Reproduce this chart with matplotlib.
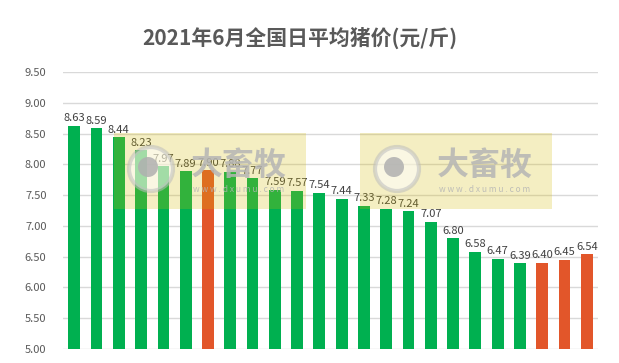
import matplotlib
matplotlib.use("Agg")
import matplotlib.pyplot as plt
from matplotlib.patches import Rectangle, Circle

plt.rcParams['font.family'] = ['Noto Sans CJK SC', 'DejaVu Sans']

title = "2021年6月全国日平均猪价(元/斤)"
days = list(range(1, 25))
prices = [8.63, 8.59, 8.44, 8.23, 7.97, 7.89, 7.90, 7.88, 7.77, 7.59, 7.57, 7.54,
          7.44, 7.33, 7.28, 7.24, 7.07, 6.80, 6.58, 6.47, 6.39, 6.40, 6.45, 6.54]
highlight = [6, 21, 22, 23]  # indices of orange bars
yticks = [5.00, 5.50, 6.00, 6.50, 7.00, 7.50, 8.00, 8.50, 9.00, 9.50]

green = "#00B050"
orange = "#E2562A"

fig = plt.figure(figsize=(6.19, 3.63), dpi=100)
ax = fig.add_axes([0.102, 0.0386, 0.864, 0.763])

colors = [orange if i in highlight else green for i in range(len(prices))]
x = list(range(len(prices)))
ax.bar(x, prices, width=0.53, color=colors, zorder=2)

for xi, v in zip(x, prices):
    ax.text(xi, v + 0.04, f"{v:.2f}", ha="center", va="bottom",
            fontsize=8, color="#404040", zorder=3)

ax.set_ylim(5.0, 9.5)
ax.set_xlim(-0.5, len(prices) - 0.5)
ax.set_yticks(yticks)
ax.set_yticklabels([f"{t:.2f}" for t in yticks], fontsize=8, color="#595959")
ax.set_xticks([])
ax.yaxis.grid(True, color="#D9D9D9", linewidth=1, zorder=0)
ax.set_axisbelow(True)
for s in ax.spines.values():
    s.set_visible(False)
ax.tick_params(axis="y", length=0, pad=12)

fig.text(0.485, 0.895, title, ha="center", va="center", fontsize=15,
         fontweight="bold", color="#595959")

# watermarks drawn on a transparent overlay axes in pixel units
W, H = 619.0, 363.0
ov = fig.add_axes([0, 0, 1, 1], zorder=10)
ov.set_xlim(0, W)
ov.set_ylim(H, 0)
ov.axis("off")
ov.patch.set_alpha(0)
for x0 in (114, 360):
    y0, y1 = 133, 209
    ov.add_patch(Rectangle((x0, y0), 192, y1 - y0, facecolor="#D5BB00",
                           alpha=0.24, edgecolor="none"))
    cx, cy = x0 + 37, 169
    ov.add_patch(Circle((cx, cy), 22, facecolor="#FFFFFF", edgecolor="#BDBDBD",
                        linewidth=3, alpha=0.55))
    ov.add_patch(Circle((cx - 3, cy - 2), 10, facecolor="#B0B0B0",
                        edgecolor="none", alpha=0.85))
    ov.text(x0 + 125, 166, "大畜牧", ha="center", va="center",
            fontsize=23, fontweight="bold", color="#B5B5B5", alpha=0.85)
    ov.text(x0 + 125, 190, "w w w . d x u m u . c o m", ha="center",
            va="center", fontsize=6, color="#B5B5B5", alpha=0.85)

fig.savefig("out.png", dpi=100)
